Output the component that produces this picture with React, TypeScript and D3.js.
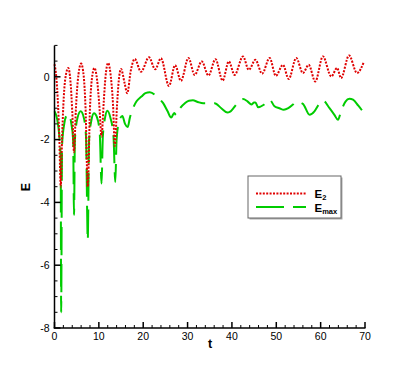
import React from 'react'
import { scaleLinear, line, curveMonotoneX, range } from 'd3'

// E2 (red dotted)
const e2T = [0, 0.4, 0.8, 1.1, 1.4, 1.7, 2.0, 2.4, 3.1, 3.6, 4.0, 4.4, 4.8, 5.2, 6.0, 6.6, 7.0, 7.5, 8.0, 8.4, 9.0, 9.6, 10.1, 10.6, 11.1, 11.5, 12.1, 12.7, 13.2, 13.6, 14.1, 14.5, 15.0, 15.8, 16.4, 17.2, 18.1, 19.5, 21.3, 22.7, 24.0, 25.8, 27.2, 28.5, 30.2, 31.6, 33.2, 34.7, 36.3, 37.9, 39.3, 40.6, 42.5, 43.8, 45.3, 46.8, 48.5, 49.9, 51.5, 52.8, 54.5, 56.0, 57.3, 58.8, 60.5, 62.4, 63.7, 64.6, 66.4, 68.2, 69.7]
const e2V = [0.4, 0.0, -0.9, -2.0, -3.5, -2.0, -0.9, -0.1, 0.28, -0.15, -1.1, -2.4, -1.1, -0.2, 0.42, 0.0, -1.0, -3.5, -1.0, -0.1, 0.28, -0.1, -0.9, -1.9, -0.8, 0.0, 0.44, 0.0, -0.9, -2.2, -0.9, -0.1, 0.25, -0.2, -0.52, 0.2, 0.57, 0.16, 0.62, 0.24, 0.59, -0.29, 0.37, -0.13, 0.6, 0.06, 0.49, 0.04, 0.56, -0.12, 0.49, 0.06, 0.65, 0.22, 0.54, 0.1, 0.6, 0.03, 0.38, -0.07, 0.6, 0.12, 0.38, -0.15, 0.65, 0.01, 0.28, -0.04, 0.68, 0.12, 0.46]

// Emax (green long dash)
const emaxT = [0, 0.6, 1.1, 1.4, 1.5, 1.7, 2.2, 2.8, 3.3, 3.8, 4.2, 4.4, 4.6, 5.2, 5.9, 6.6, 7.1, 7.5, 7.8, 8.3, 8.9, 9.6, 10.2, 10.6, 10.9, 11.4, 11.9, 12.6, 13.3, 13.7, 14.0, 14.6, 15.3, 15.9, 16.5, 17.0, 17.7, 18.5, 19.6, 20.5, 21.5, 23.4, 24.5, 25.5, 26.3, 27.0, 27.4, 28.3, 29.4, 30.3, 31.2, 32.3, 33.5, 35.0, 36.1, 37.6, 39.0, 39.5, 40.5, 41.5, 42.5, 43.5, 44.4, 45.0, 45.3, 45.9, 47.2, 48.5, 49.6, 50.7, 51.7, 52.7, 53.7, 54.5, 56.0, 57.5, 58.6, 59.5, 60.5, 62.0, 63.1, 63.9, 64.6, 65.6, 66.5, 67.3, 68.5, 69.7]
const emaxV = [-1.1, -1.35, -1.9, -2.6, -7.5, -2.2, -1.5, -1.22, -1.2, -1.5, -2.0, -4.4, -2.0, -1.3, -1.1, -1.3, -1.9, -5.2, -2.0, -1.4, -1.16, -1.3, -1.8, -3.4, -1.9, -1.3, -1.08, -1.3, -1.9, -3.35, -2.0, -1.4, -1.25, -1.5, -1.6, -1.3, -1.0, -0.78, -0.63, -0.52, -0.49, -0.68, -0.84, -1.1, -1.3, -1.15, -1.22, -1.0, -0.84, -0.76, -0.75, -0.8, -0.84, -0.84, -0.84, -1.0, -1.14, -1.12, -0.97, -0.8, -0.71, -0.78, -0.88, -0.82, -0.82, -0.97, -0.89, -0.73, -0.94, -1.0, -1.05, -1.0, -0.89, -0.79, -0.86, -1.21, -1.1, -0.9, -0.75, -1.0, -1.21, -1.37, -1.1, -0.79, -0.7, -0.73, -0.92, -1.14]

const xMajor = [0, 10, 20, 30, 40, 50, 60, 70]
const yMajor = [0, -2, -4, -6, -8]

const W = 415
const H = 369
const font = 'Liberation Sans, Arial, sans-serif'

export default function App() {
  const x = scaleLinear().domain([0, 70]).range([54.5, 365])
  const y = scaleLinear().domain([-8, 1]).range([328, 45.4])

  const xMinor = range(0, 70.01, 2).filter(v => v % 10 !== 0)
  const yMinor = range(-8, 1.01, 0.5).filter(v => v % 2 !== 0)

  const path = line<[number, number]>().x(d => x(d[0])).y(d => y(d[1])).curve(curveMonotoneX)
  const e2 = path(e2T.map((t, i) => [t, e2V[i]]))
  const emax = path(emaxT.map((t, i) => [t, emaxV[i]]))

  const x0 = x(0)
  const yb = y(-8)

  return (
    <svg width={W} height={H} style={{ position: 'absolute', left: 0, top: 0, background: '#fff' }} fontFamily={font}>
      <path d={emax ?? ''} fill="none" stroke="#00cc00" strokeWidth={2} strokeDasharray="28 9" />
      <path d={e2 ?? ''} fill="none" stroke="#e00000" strokeWidth={2} strokeDasharray="2 1.4" />

      {/* axes */}
      <line x1={x0} x2={x0} y1={y(1)} y2={yb + 0.5} stroke="#000" strokeWidth={1.5} />
      <line x1={x0 - 0.75} x2={x(70) + 0.5} y1={yb} y2={yb} stroke="#000" strokeWidth={1.5} />
      {xMajor.map(v => (
        <g key={`xm${v}`}>
          <line x1={x(v)} x2={x(v)} y1={yb} y2={yb - 6} stroke="#000" strokeWidth={1.5} />
          <text x={x(v)} y={339.5} fontSize={10.5} textAnchor="middle">{v}</text>
        </g>
      ))}
      {xMinor.map(v => (
        <line key={`xn${v}`} x1={x(v)} x2={x(v)} y1={yb} y2={yb - 3} stroke="#000" strokeWidth={1} />
      ))}
      {yMajor.map(v => (
        <g key={`ym${v}`}>
          <line x1={x0} x2={x0 + 6} y1={y(v)} y2={y(v)} stroke="#000" strokeWidth={1.5} />
          <text x={49.5} y={y(v) + 3.8} fontSize={10.5} textAnchor="end">{v}</text>
        </g>
      ))}
      {yMinor.map(v => (
        <line key={`yn${v}`} x1={x0} x2={x0 + 3} y1={y(v)} y2={y(v)} stroke="#000" strokeWidth={1} />
      ))}

      <text x={210} y={348} fontSize={12.5} fontWeight="bold" textAnchor="middle">t</text>
      <text transform={`translate(29.5, 187) rotate(-90)`} fontSize={12.5} fontWeight="bold" textAnchor="middle">E</text>

      {/* legend */}
      <rect x={249.5} y={177.5} width={93} height={42} fill="#aaa" />
      <rect x={248} y={176} width={93} height={42} fill="#fff" stroke="#666" strokeWidth={1} />
      <line x1={256} x2={306} y1={193.5} y2={193.5} stroke="#e00000" strokeWidth={2} strokeDasharray="2 1.4" />
      <line x1={256} x2={306} y1={207} y2={207} stroke="#00cc00" strokeWidth={2} strokeDasharray="28 9" />
      <text x={314.5} y={197.5} fontSize={11.5} fontWeight="bold">E<tspan fontSize={7.5} dy={2.5}>2</tspan></text>
      <text x={314.5} y={211.5} fontSize={11.5} fontWeight="bold">E<tspan fontSize={7.5} dy={2.5}>max</tspan></text>
    </svg>
  )
}
